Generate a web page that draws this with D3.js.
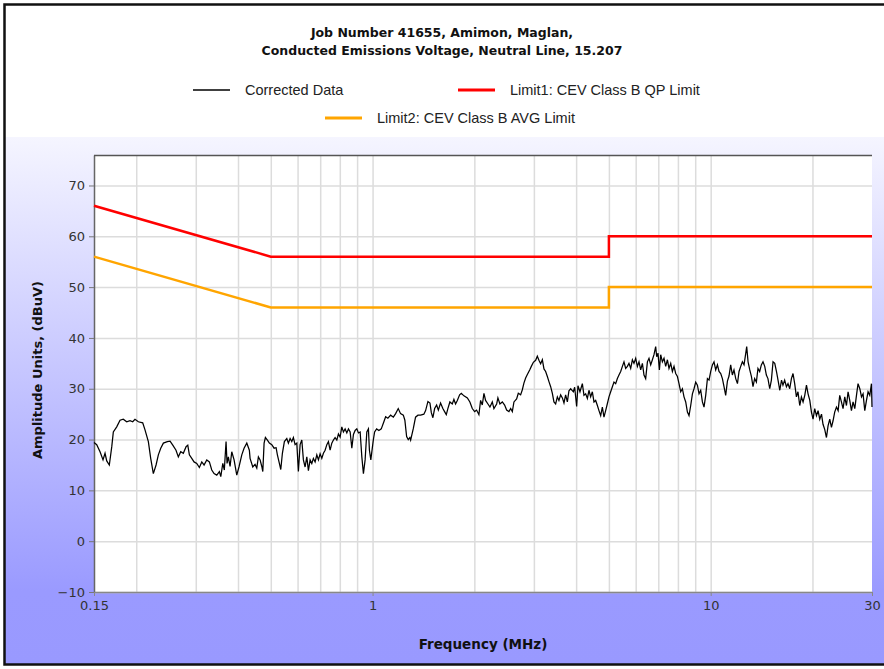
<!DOCTYPE html>
<html>
<head>
<meta charset="utf-8">
<script src="https://cdn.jsdelivr.net/npm/d3@7"></script>
<style>
  body { margin: 0; background: #fff; }
  svg { display: block; }
  .tick text { font-family: "DejaVu Sans", sans-serif; font-size: 13px; fill: #333; }
</style>
</head>
<body>
<script>
var w = 884;
var h = 669;

var titleLines = ['Job Number 41655, Amimon, Maglan,', 'Conducted Emissions Voltage, Neutral Line, 15.207'];
var seriesNames = ['Corrected Data', 'Limit1: CEV Class B QP Limit', 'Limit2: CEV Class B AVG Limit'];
var seriesColors = ['#000000', '#ff0000', '#ffa500'];

// limit lines (MHz, dBuV)
var qpFreq = [0.15, 0.5, 5, 5, 30];
var qpLevel = [66, 56, 56, 60, 60];
var avgFreq = [0.15, 0.5, 5, 5, 30];
var avgLevel = [56, 46, 46, 50, 50];

// corrected data
var dataFreq = [
  0.150, 0.1528, 0.1563, 0.1595, 0.1617, 0.1636, 0.1665, 0.1693, 0.1711, 0.1751,
  0.1791, 0.1831, 0.1874, 0.1917, 0.1952, 0.1983, 0.2029, 0.2090, 0.2123, 0.2172,
  0.2207, 0.2247, 0.2289, 0.2325, 0.2363, 0.2406, 0.2472, 0.2518, 0.2565, 0.2622,
  0.2664, 0.2708, 0.2756, 0.2808, 0.2841, 0.2872, 0.2919, 0.2965, 0.3020, 0.3074,
  0.3125, 0.3174, 0.3233, 0.3291, 0.3345, 0.3398, 0.3461, 0.3523, 0.3557, 0.3606,
  0.3644, 0.3687, 0.3712, 0.3745, 0.3789, 0.3833, 0.3894, 0.3966, 0.4029, 0.4104,
  0.4168, 0.4246, 0.4321, 0.4342, 0.4423, 0.4492, 0.4545, 0.4595, 0.4649, 0.4703,
  0.4735, 0.4777, 0.4820, 0.4886, 0.4952, 0.5034, 0.5114, 0.5184, 0.5230, 0.5301,
  0.5352, 0.5411, 0.5485, 0.5576, 0.5637, 0.5703, 0.5769, 0.5832, 0.5900, 0.5969,
  0.6034, 0.6105, 0.6176, 0.6243, 0.6316, 0.6390, 0.6460, 0.6535, 0.6611, 0.6683,
  0.6762, 0.6841, 0.6916, 0.6996, 0.7077, 0.7155, 0.7238, 0.7323, 0.7403, 0.7489,
  0.7576, 0.7659, 0.7748, 0.7839, 0.7925, 0.8017, 0.8110, 0.8199, 0.8295, 0.8392,
  0.8485, 0.8584, 0.8683, 0.8778, 0.8880, 0.8983, 0.9083, 0.9189, 0.9295, 0.9396,
  0.9505, 0.9616, 0.9722, 0.9788, 0.9881, 1.005, 1.014, 1.028, 1.044, 1.061,
  1.080, 1.093, 1.110, 1.131, 1.152, 1.170, 1.191, 1.210, 1.233, 1.246,
  1.261, 1.275, 1.289, 1.296, 1.320, 1.340, 1.362, 1.387, 1.418, 1.435,
  1.458, 1.478, 1.492, 1.508, 1.526, 1.547, 1.565, 1.589, 1.614, 1.633,
  1.652, 1.670, 1.693, 1.721, 1.740, 1.760, 1.781, 1.809, 1.830, 1.863,
  1.907, 1.940, 1.972, 2.004, 2.031, 2.063, 2.087, 2.111, 2.135, 2.159,
  2.194, 2.224, 2.260, 2.285, 2.328, 2.348, 2.380, 2.420, 2.458, 2.492,
  2.531, 2.561, 2.590, 2.619, 2.667, 2.698, 2.741, 2.773, 2.803, 2.836,
  2.869, 2.915, 2.948, 2.989, 3.036, 3.071, 3.105, 3.141, 3.178, 3.213,
  3.250, 3.288, 3.324, 3.363, 3.402, 3.439, 3.479, 3.520, 3.558, 3.600,
  3.642, 3.682, 3.724, 3.768, 3.809, 3.854, 3.925, 3.960, 4.014, 4.050,
  4.106, 4.173, 4.219, 4.268, 4.318, 4.365, 4.416, 4.467, 4.517, 4.569,
  4.623, 4.673, 4.728, 4.782, 4.835, 4.891, 4.949, 5.003, 5.061, 5.120,
  5.176, 5.236, 5.297, 5.355, 5.418, 5.481, 5.541, 5.605, 5.671, 5.733,
  5.800, 5.867, 5.931, 6.000, 6.071, 6.137, 6.209, 6.281, 6.350, 6.423,
  6.499, 6.570, 6.647, 6.724, 6.797, 6.876, 6.923, 6.985, 7.052, 7.115,
  7.197, 7.277, 7.361, 7.448, 7.529, 7.617, 7.705, 7.790, 7.880, 7.973,
  8.060, 8.154, 8.248, 8.339, 8.436, 8.535, 8.628, 8.729, 8.830, 8.927,
  9.030, 9.136, 9.237, 9.344, 9.452, 9.556, 9.667, 9.781, 9.888, 10.003,
  10.119, 10.229, 10.348, 10.470, 10.584, 10.708, 10.831, 10.950, 11.076, 11.207,
  11.33, 11.46, 11.59, 11.72, 11.86, 12.00, 12.13, 12.27, 12.41, 12.55,
  12.70, 12.78, 12.90, 13.05, 13.20, 13.34, 13.49, 13.65, 13.80, 13.96,
  14.12, 14.28, 14.45, 14.61, 14.77, 14.95, 15.12, 15.29, 15.47, 15.65,
  15.82, 16.01, 16.20, 16.36, 16.55, 16.75, 16.93, 17.13, 17.33, 17.52,
  17.72, 17.93, 18.12, 18.34, 18.55, 18.76, 18.98, 19.20, 19.41, 19.64,
  19.86, 20.08, 20.31, 20.55, 20.78, 21.02, 21.27, 21.49, 21.74, 22.00,
  22.24, 22.50, 22.76, 23.01, 23.27, 23.55, 23.82, 24.08, 24.36, 24.63,
  24.92, 25.21, 25.49, 25.78, 26.08, 26.37, 26.68, 26.99, 27.28, 27.61,
  27.93, 28.23, 28.56, 28.89, 29.21, 29.55, 29.89, 30.0
];
var dataLevel = [
  19.4, 19.0, 17.6, 16.0, 17.3, 15.8, 15.0, 18.6, 21.5, 22.5,
  23.8, 24.0, 23.5, 23.7, 23.5, 24.0, 23.5, 23.3, 21.9, 19.6,
  16.3, 13.3, 15.0, 17.0, 18.3, 19.3, 19.6, 19.7, 18.9, 17.9,
  16.6, 17.6, 17.3, 18.6, 18.9, 17.0, 16.3, 15.6, 15.3, 14.5,
  15.6, 15.0, 16.0, 15.6, 14.0, 13.3, 13.0, 13.7, 12.7, 15.3,
  14.0, 19.6, 15.3, 16.6, 14.7, 17.6, 16.0, 13.0, 14.7, 17.0,
  18.3, 19.3, 17.9, 16.3, 14.6, 15.1, 14.4, 16.6, 16.0, 14.7,
  13.7, 19.3, 20.4, 19.9, 19.3, 19.0, 18.3, 18.4, 17.0, 15.3,
  14.1, 17.3, 19.6, 20.2, 19.3, 20.2, 19.6, 20.4, 19.0, 19.3,
  13.7, 19.0, 19.9, 16.0, 14.6, 16.6, 13.9, 16.0, 15.3, 16.3,
  15.6, 17.0, 16.0, 17.2, 16.3, 17.3, 17.9, 19.0, 19.6, 17.9,
  19.3, 19.9, 20.4, 19.9, 21.1, 20.5, 22.5, 21.5, 22.1, 21.3,
  22.1, 21.5, 18.3, 21.0, 21.8, 22.1, 21.3, 21.5, 16.6, 13.3,
  16.0, 21.5, 22.1, 17.9, 16.0, 19.9, 21.5, 22.1, 21.8, 22.1,
  23.5, 24.5, 24.2, 24.8, 24.4, 25.1, 26.1, 25.1, 24.8, 23.8,
  20.6, 20.0, 20.4, 19.9, 22.2, 24.4, 24.8, 24.8, 25.0, 25.7,
  27.5, 27.2, 25.3, 24.3, 26.1, 26.8, 25.8, 27.2, 26.1, 25.5,
  24.9, 26.1, 27.4, 27.0, 27.9, 27.0, 27.7, 28.8, 29.1, 28.6,
  28.2, 27.4, 26.1, 25.5, 25.8, 24.9, 27.7, 26.8, 29.1, 27.7,
  27.0, 26.4, 27.4, 26.1, 27.0, 28.2, 27.0, 27.4, 26.8, 25.8,
  25.5, 26.1, 25.5, 27.4, 28.0, 29.1, 28.8, 29.8, 31.1, 32.1,
  32.8, 33.7, 34.4, 35.2, 35.6, 36.4, 35.6, 34.9, 35.7, 33.9,
  33.4, 32.4, 31.4, 30.4, 29.1, 27.4, 27.0, 28.4, 27.7, 28.8,
  28.2, 27.2, 28.8, 27.4, 29.6, 30.0, 29.4, 30.3, 26.5, 30.6,
  29.4, 31.0, 28.7, 29.0, 28.1, 29.7, 28.4, 29.4, 27.4, 27.7,
  26.7, 25.7, 24.7, 26.4, 24.4, 25.7, 27.1, 28.4, 29.4, 30.4,
  31.3, 31.0, 32.0, 32.7, 33.4, 34.4, 35.3, 34.0, 34.4, 35.0,
  34.0, 35.7, 35.0, 36.0, 34.4, 35.3, 33.7, 35.0, 32.7, 32.0,
  35.3, 36.0, 34.7, 35.7, 36.7, 38.3, 36.3, 37.0, 33.7, 36.7,
  35.3, 36.0, 34.4, 35.7, 34.0, 35.0, 33.4, 34.4, 33.0, 32.4,
  31.0, 29.4, 30.0, 28.4, 27.4, 25.4, 24.7, 26.7, 29.0, 30.0,
  31.3, 30.7, 29.0, 29.7, 27.4, 26.4, 28.7, 32.0, 31.7, 33.4,
  34.7, 35.3, 33.7, 34.7, 33.4, 33.0, 32.0, 30.4, 28.7, 31.5,
  32.5, 34.7, 32.7, 33.7, 32.0, 31.0, 33.4, 34.4, 35.3, 34.7,
  37.0, 38.3, 35.3, 33.7, 32.4, 30.4, 32.0, 31.3, 34.0, 33.4,
  34.7, 35.3, 34.4, 32.7, 32.0, 30.0, 31.7, 35.3, 35.0, 33.4,
  31.7, 29.7, 31.7, 30.7, 31.7, 30.4, 31.0, 30.0, 32.0, 33.0,
  31.0, 28.4, 29.4, 26.7, 28.4, 27.4, 28.7, 30.7, 29.0, 27.7,
  25.4, 24.0, 26.1, 24.7, 25.7, 24.0, 25.0, 23.0, 22.0, 20.4,
  22.7, 24.0, 22.4, 23.7, 25.4, 26.4, 25.7, 28.7, 27.4, 26.1,
  28.4, 26.7, 29.4, 27.7, 25.7, 27.4, 26.1, 28.7, 31.0, 30.0,
  28.4, 29.0, 25.7, 27.7, 29.4, 28.7, 31.0, 26.4
];

var xTickLabels = [0.15, 1, 10, 30];
var xGridValues = [0.2, 0.3, 0.4, 0.5, 0.6, 0.7, 0.8, 0.9, 1, 2, 3, 4, 5, 6, 7, 8, 9, 10, 20];
var yTickValues = [-10, 0, 10, 20, 30, 40, 50, 60, 70];

var svg = d3.select('body')
            .append('svg')
            .attr('width', w)
            .attr('height', h);

var defs = svg.append('defs');
var grad = defs.append('linearGradient')
               .attr('id', 'bg')
               .attr('x1', 0).attr('y1', 0)
               .attr('x2', 0).attr('y2', 1);
grad.append('stop').attr('offset', '0%').attr('stop-color', '#f5f5ff');
grad.append('stop').attr('offset', '86%').attr('stop-color', '#9a9aff');
grad.append('stop').attr('offset', '100%').attr('stop-color', '#9999ff');

// frame + backgrounds
svg.append('rect').attr('x', 0).attr('y', 0).attr('width', w).attr('height', h).attr('fill', '#fff');
svg.append('rect').attr('x', 5).attr('y', 137).attr('width', w).attr('height', h - 141).attr('fill', 'url(#bg)');
svg.append('rect').attr('x', 4.5).attr('y', 4.5).attr('width', w + 10).attr('height', h - 9)
   .attr('fill', 'none').attr('stroke', '#111').attr('stroke-width', 2.5);

var x = d3.scaleLog().domain([0.15, 30]).range([94, 872]);
var y = d3.scaleLinear().domain([-10, 76]).range([592, 155]);

var plot = svg.append('g');
plot.append('rect')
    .attr('x', 94).attr('y', 155)
    .attr('width', 872 - 94).attr('height', 592 - 155)
    .attr('fill', '#fff');

// grid
plot.append('g')
    .attr('transform', 'translate(0,592)')
    .call(d3.axisBottom(x).tickValues(xGridValues).tickSize(-(592 - 155)).tickFormat(''))
    .call(function(g) {
        g.select('.domain').remove();
        g.selectAll('line').attr('stroke', '#dcdcdc').attr('stroke-width', 1.5);
    });
plot.append('g')
    .attr('transform', 'translate(94,0)')
    .call(d3.axisLeft(y).tickValues(yTickValues).tickSize(-(872 - 94)).tickFormat(''))
    .call(function(g) {
        g.select('.domain').remove();
        g.selectAll('line').attr('stroke', '#dcdcdc').attr('stroke-width', 1.5);
    });

// axes
var yAxis = plot.append('g')
    .attr('transform', 'translate(94,0)')
    .call(d3.axisLeft(y).tickValues(yTickValues).tickSize(5).tickSizeOuter(0).tickPadding(4));
yAxis.select('.domain').attr('stroke', '#666').attr('stroke-width', 1.5);
yAxis.selectAll('.tick line').attr('stroke', '#777');

var xAxis = plot.append('g')
    .attr('transform', 'translate(0,592)')
    .call(d3.axisBottom(x).tickValues(xTickLabels).tickSize(4).tickSizeOuter(0).tickPadding(5)
          .tickFormat(function(d) { return d; }));
xAxis.select('.domain').attr('stroke', '#888').attr('stroke-width', 1.5);
xAxis.selectAll('.tick line').attr('stroke', '#888');

// top border
plot.append('line')
    .attr('x1', 94).attr('x2', 872).attr('y1', 155.5).attr('y2', 155.5)
    .attr('stroke', '#555').attr('stroke-width', 1.5);

var line = d3.line()
             .x(function(d) { return x(d[0]); })
             .y(function(d) { return y(d[1]); });

var corrected = d3.zip(dataFreq, dataLevel);
var qp = d3.zip(qpFreq, qpLevel);
var avg = d3.zip(avgFreq, avgLevel);

plot.append('path')
    .datum(corrected)
    .attr('fill', 'none')
    .attr('stroke', seriesColors[0])
    .attr('stroke-width', 1.25)
    .attr('d', line);

plot.append('path')
    .datum(avg)
    .attr('fill', 'none')
    .attr('stroke', seriesColors[2])
    .attr('stroke-width', 2.5)
    .attr('d', line);

plot.append('path')
    .datum(qp)
    .attr('fill', 'none')
    .attr('stroke', seriesColors[1])
    .attr('stroke-width', 2.5)
    .attr('d', line);

// title
svg.append('g').selectAll('text')
   .data(titleLines)
   .enter()
   .append('text')
   .attr('x', 442)
   .attr('y', function(d, i) { return 37 + i * 18; })
   .attr('text-anchor', 'middle')
   .attr('font-family', 'DejaVu Sans, sans-serif')
   .attr('font-weight', 'bold')
   .attr('font-size', 12.5)
   .attr('fill', '#111')
   .text(function(d) { return d; });

// legend
var legendItems = [
    {name: seriesNames[0], color: seriesColors[0], x: 193, y: 90, sw: 1.5},
    {name: seriesNames[1], color: seriesColors[1], x: 458, y: 90, sw: 3},
    {name: seriesNames[2], color: seriesColors[2], x: 325, y: 118, sw: 3}
];
var legend = svg.append('g').selectAll('g')
                .data(legendItems)
                .enter()
                .append('g');
legend.append('line')
      .attr('x1', function(d) { return d.x; })
      .attr('x2', function(d) { return d.x + 37; })
      .attr('y1', function(d) { return d.y; })
      .attr('y2', function(d) { return d.y; })
      .attr('stroke', function(d) { return d.color; })
      .attr('stroke-width', function(d) { return d.sw; });
legend.append('text')
      .attr('x', function(d) { return d.x + 52; })
      .attr('y', function(d) { return d.y + 5; })
      .attr('font-family', 'Liberation Sans, Arial, sans-serif')
      .attr('font-size', 14.5)
      .attr('fill', '#222')
      .text(function(d) { return d.name; });

// axis titles
svg.append('text')
   .attr('transform', 'translate(42,370) rotate(-90)')
   .attr('text-anchor', 'middle')
   .attr('font-family', 'DejaVu Sans, sans-serif')
   .attr('font-weight', 'bold')
   .attr('font-size', 13)
   .attr('fill', '#111')
   .text('Amplitude Units, (dBuV)');

svg.append('text')
   .attr('x', 483)
   .attr('y', 649)
   .attr('text-anchor', 'middle')
   .attr('font-family', 'DejaVu Sans, sans-serif')
   .attr('font-weight', 'bold')
   .attr('font-size', 13.5)
   .attr('fill', '#111')
   .text('Frequency (MHz)');
</script>
</body>
</html>
